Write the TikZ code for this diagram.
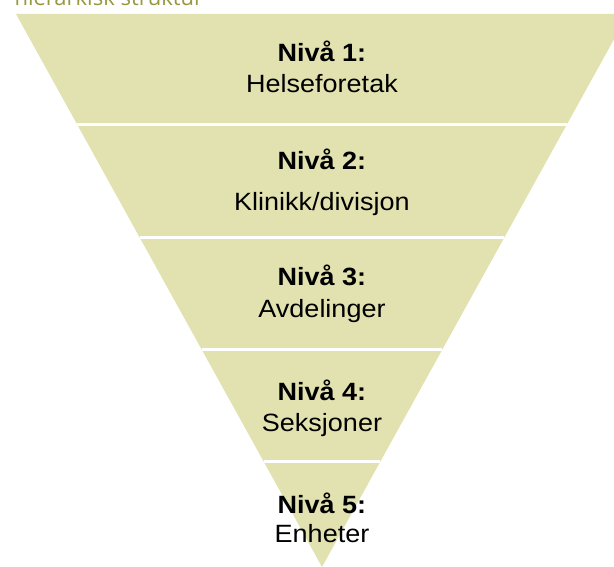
\documentclass[tikz,border=0pt]{standalone}
\usepackage{fontspec}
\setmainfont{Liberation Sans}
\newfontfamily\labelfont[FakeStretch=1.08]{Liberation Sans}
\newfontfamily\titlefont{Open Sans}
\usetikzlibrary{calc}
\definecolor{bandfill}{RGB}{226,226,176}
\definecolor{titlegreen}{RGB}{152,152,64}
\tikzset{
    level/.style={anchor=base,inner sep=0pt,font=\labelfont\fontsize{25}{30}\selectfont,text=black},
    divider/.style={white,line width=3pt},
}
\begin{document}
\begin{tikzpicture}[x=1pt,y=-1pt]
\useasboundingbox (0,0) rectangle (614,567);
\clip (0,0) rectangle (614,567);
\coordinate (L) at (16,14);
\coordinate (R) at (628,14);
\coordinate (C) at (322,567);
\fill[bandfill] (L)--(R)--(C)--cycle;
\foreach \t in {0.2,0.404,0.607,0.81}
\draw[divider] ($(L)!\t!(C)$)--($(R)!\t!(C)$);
\node[anchor=base west,text=titlegreen,font=\titlefont\fontsize{22}{26}\selectfont] (title) at (11,6) {hierarkisk struktur};
% levels
\node[level] (lvl1) at (322,62) {\bfseries Nivå 1:};
\node[level] (unit1) at (322,93) {Helseforetak};
\node[level] (lvl2) at (322,170) {\bfseries Nivå 2:};
\node[level] (unit2) at (322,211) {Klinikk/divisjon};
\node[level] (lvl3) at (322,286) {\bfseries Nivå 3:};
\node[level] (unit3) at (322,317) {Avdelinger};
\node[level] (lvl4) at (322,400) {\bfseries Nivå 4:};
\node[level] (unit4) at (322,431) {Seksjoner};
\node[level] (lvl5) at (322,513) {\bfseries Nivå 5:};
\node[level] (unit5) at (322,542) {Enheter};
\end{tikzpicture}
\end{document}
